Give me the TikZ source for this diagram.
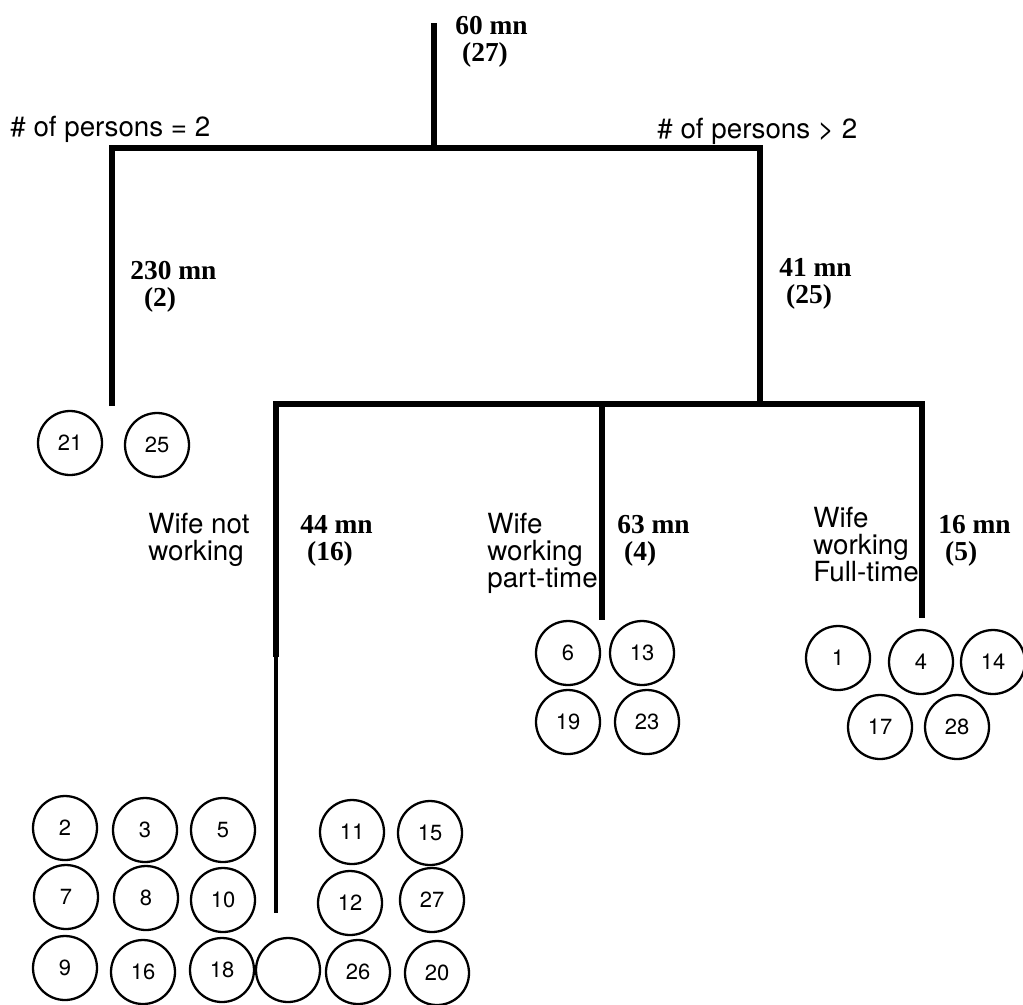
\documentclass[tikz,border=0pt]{standalone}
\usepackage{fontspec}
\setmainfont{Liberation Serif}
\newfontfamily\helv{TeX Gyre Heros}
\usetikzlibrary{positioning}

\begin{document}
\begin{tikzpicture}[
  x=0.02cm, y=-0.02cm,
  branch/.style={line width=3.5pt, line join=miter},
  tail/.style={line width=2.2pt},
  leaf/.style={circle, draw, line width=1.3pt, minimum size=1.28cm, inner sep=0pt, font=\helv\fontsize{12.5}{13}\selectfont},
  split/.style={anchor=north west, inner sep=0pt, align=left, font=\helv\fontsize{15.8}{15.2}\selectfont},
  stat/.style={anchor=north west, inner sep=0pt, align=left, font=\bfseries\fontsize{15.6}{15.4}\selectfont},
]
\useasboundingbox (0,0) rectangle (1023,1004);

% --- Tree ---
\coordinate (top) at (434,23);
\coordinate (j0) at (434,148);
\coordinate (l0) at (112,148);
\coordinate (l1) at (112,406);
\coordinate (r0) at (760,148);
\coordinate (j1) at (760,404);
\coordinate (a0) at (276,404);
\coordinate (a1) at (276,657);
\coordinate (a2) at (276,913);
\coordinate (b0) at (602,404);
\coordinate (b1) at (602,620);
\coordinate (c0) at (922,404);
\coordinate (c1) at (922,618);
\draw[branch] (top) -- (j0);
\draw[branch] (l1) -- (l0) -- (r0) -- (j1);
\draw[branch] (a1) -- (a0) -- (c0) -- (c1);
\draw[branch] (b0) -- (b1);
\draw[tail] (a1) -- (a2);

% --- Splits ---
\node[split] (eq2) at (10,116) {\# of persons = 2};
\node[split] (gt2) at (657,118) {\# of persons > 2};
\node[split] (wnot) at (148,513) {Wife not\\working};
\node[split] (wpart) at (487,513) {Wife\\working\\part-time};
\node[split] (wfull) at (813,507) {Wife\\working\\Full-time};

% --- Means (counts) ---
\node[stat] (s0) at (455,16) {60 mn\\\ (27)};
\node[stat] (s1) at (130,261) {230 mn\\\ \ (2)};
\node[stat] (s2) at (779,258) {41 mn\\\ (25)};
\node[stat] (s3) at (300,515) {44 mn\\\ (16)};
\node[stat] (s4) at (617,515) {63 mn\\\ (4)};
\node[stat] (s5) at (938,515) {16 mn\\\ (5)};

% --- Leaves ---
\foreach \n/\x/\y in {21/70/443, 25/157/445,
  6/568/653, 13/642/653, 19/568/722, 23/647/722,
  1/838/658, 4/921/662, 14/993/662, 17/880/727, 28/957/727,
  2/65/828, 3/145/830, 5/223/830, 7/66/897, 8/146/898, 10/223/900,
  9/65/968, 16/143/972, 18/222/970,
  11/352/832, 15/430/833, 12/350/903, 27/432/900, 26/358/972, 20/437/973}{
  \node[leaf] (c\n) at (\x,\y) {\n};
}
\node[leaf] (cblank) at (288,970) {};
\end{tikzpicture}
\end{document}
